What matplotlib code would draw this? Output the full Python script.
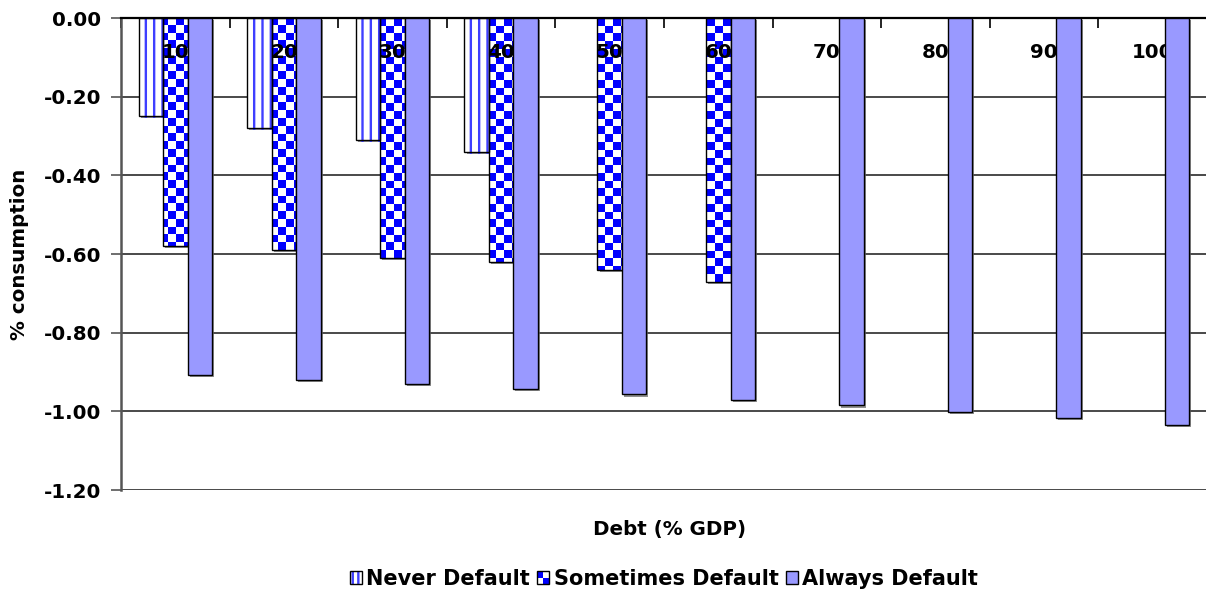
import numpy as np
import matplotlib
matplotlib.use("Agg")
import matplotlib.pyplot as plt
import matplotlib.patheffects as pe
from matplotlib.patches import Patch, Rectangle
from matplotlib.legend_handler import HandlerBase
from matplotlib.colors import ListedColormap
from matplotlib.ticker import FormatStrFormatter

# Consumption change by debt level, for three default scenarios
debt_levels = ["10", "20", "30", "40", "50", "60", "70", "80", "90", "100"]
never_default = [-0.25, -0.28, -0.31, -0.34]
sometimes_default = [-0.58, -0.59, -0.61, -0.62, -0.64, -0.67]
always_default = [-0.908, -0.920, -0.931, -0.943, -0.957, -0.970,
                  -0.985, -1.001, -1.016, -1.034]
series_names = ["Never Default", "Sometimes Default", "Always Default"]
y_ticks = np.linspace(-1.2, 0.0, 7)

BLUE = "#0000ff"
STRIPE = "#3f3fff"
LAVENDER = "#9999ff"
FS = 14.3

plt.rcParams["font.family"] = ["DejaVu Sans"]
plt.rcParams["font.weight"] = "bold"
plt.rcParams["hatch.linewidth"] = 1.7

W, H = 1206, 597
fig = plt.figure(figsize=(W / 100, H / 100), dpi=100)
ax = fig.add_axes([121 / W, 1 - 490 / H, 1086 / W, 472 / H])
ax.set_xlim(-0.5, len(debt_levels) - 0.5)
ax.set_ylim(y_ticks[0], y_ticks[-1])

x = np.arange(len(debt_levels))
bw = 0.225
shadow = [pe.SimplePatchShadow(offset=(1.5, -1.5), shadow_rgbFace="#6a6a6a", alpha=0.75),
          pe.Normal()]

# Never default: white bars with blue vertical stripes
xn = x[:len(never_default)] - bw
ax.bar(xn, never_default, bw, color="white", edgecolor=STRIPE, linewidth=0,
       hatch="||", zorder=2, path_effects=shadow)
ax.bar(xn, never_default, bw, fill=False, edgecolor="black", linewidth=1.0, zorder=2.3)

# Sometimes default: checkerboard fill clipped to each bar
xs = x[:len(sometimes_default)]
base = ax.bar(xs, sometimes_default, bw, color="white", linewidth=0, zorder=2,
              path_effects=shadow)
cell = 7.8
nx = int(round(1086 / cell))
ny = int(round(472 / cell))
board = np.add.outer(np.arange(ny), np.arange(nx)) % 2
checker_cmap = ListedColormap(["white", BLUE])
for rect in base:
    im = ax.imshow(board, cmap=checker_cmap, interpolation="nearest", aspect="auto",
                   extent=(-0.5, len(debt_levels) - 0.5, y_ticks[0], y_ticks[-1]),
                   zorder=2.1)
    im.set_clip_path(rect)
ax.bar(xs, sometimes_default, bw, fill=False, edgecolor="black", linewidth=1.0, zorder=2.3)

# Always default: solid lavender bars
ax.bar(x + bw, always_default, bw, color=LAVENDER, edgecolor="black", linewidth=1.0,
       zorder=4, path_effects=shadow)

# Category labels sit just under the zero line
for i, lab in enumerate(debt_levels):
    ax.annotate(lab, xy=(i, 1), xycoords=("data", "axes fraction"),
                xytext=(0, -24.5), textcoords="offset points",
                ha="center", va="center", fontsize=FS, fontweight="bold", zorder=3)

# Axes styling
ax.set_xlim(-0.5, len(debt_levels) - 0.5)
ax.set_ylim(y_ticks[0], y_ticks[-1])
ax.set_yticks(y_ticks)
ax.yaxis.set_major_formatter(FormatStrFormatter("%.2f"))
ax.yaxis.grid(True, color="#3a3a3a", linewidth=1.3)
ax.set_axisbelow(True)

ax.xaxis.tick_top()
ax.set_xticks(np.arange(-0.5, len(debt_levels), 1))
ax.tick_params(axis="x", direction="in", length=7, width=1.2, color="black",
               labeltop=False, labelbottom=False)
ax.tick_params(axis="y", direction="out", length=7, width=1.2, color="#555555",
               pad=7, labelsize=FS)

for side in ("right", "bottom"):
    ax.spines[side].set_visible(False)
ax.spines["top"].set_color("black")
ax.spines["top"].set_linewidth(1.6)
ax.spines["left"].set_color("#555555")
ax.spines["left"].set_linewidth(1.8)

ax.set_xlabel("Debt (% GDP)", fontsize=FS, fontweight="bold")
ax.xaxis.set_label_position("bottom")
ax.xaxis.set_label_coords((670 - 121) / 1086, -(530 - 490) / 472)
ax.xaxis.label.set_va("center")

ax.set_ylabel("% consumption", fontsize=FS, fontweight="bold")
ax.yaxis.set_label_coords((20 - 121) / 1086, 0.5)
ax.yaxis.label.set_va("center")


# Legend swatches
class CheckerSwatch:
    pass


class CheckerHandler(HandlerBase):
    def create_artists(self, legend, orig_handle, xdescent, ydescent,
                       width, height, fontsize, trans):
        arts = []
        hw, hh = width / 2, height / 2
        for i in range(2):
            for j in range(2):
                c = BLUE if (i + j) % 2 == 1 else "white"
                arts.append(Rectangle((-xdescent + i * hw, -ydescent + j * hh), hw, hh,
                                      facecolor=c, edgecolor="none", transform=trans))
        arts.append(Rectangle((-xdescent, -ydescent), width, height, fill=False,
                              edgecolor="black", linewidth=1.0, transform=trans))
        return arts


never_handle = (Patch(facecolor="white", edgecolor=STRIPE, linewidth=0, hatch="|||"),
                Patch(fill=False, edgecolor="black", linewidth=1.0))
always_handle = Patch(facecolor=LAVENDER, edgecolor="black", linewidth=1.0)

fig.legend([never_handle, CheckerSwatch(), always_handle], series_names,
           handler_map={CheckerSwatch: CheckerHandler()},
           loc="center", bbox_to_anchor=(664 / W, 1 - 579 / H), ncol=3,
           frameon=False, fontsize=15, handlelength=0.58, handleheight=0.58,
           handletextpad=0.2, columnspacing=0.35, borderpad=0)

fig.savefig("out.png", dpi=100)
